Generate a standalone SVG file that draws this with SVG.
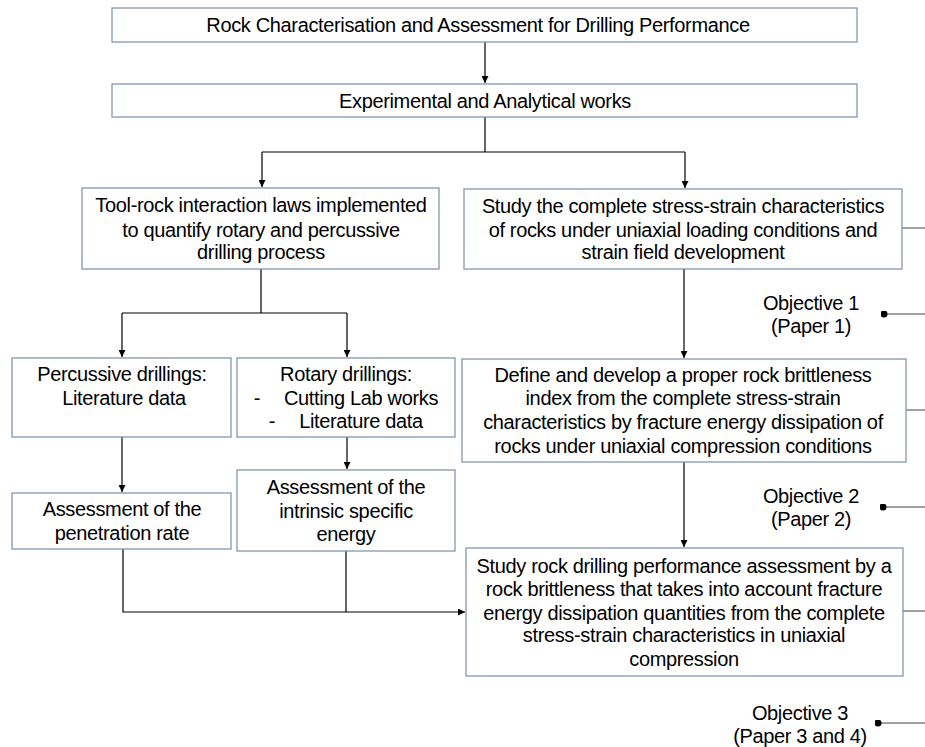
<svg xmlns="http://www.w3.org/2000/svg" width="925" height="747" viewBox="0 0 925 747">
<defs>
<marker id="ah" viewBox="0 0 10 10" refX="10" refY="5" markerWidth="7" markerHeight="7" orient="auto" markerUnits="userSpaceOnUse"><path d="M0,0 L10,5 L0,10 z" fill="#000"/></marker>
<marker id="dot" viewBox="0 0 10 10" refX="5" refY="5" markerWidth="7" markerHeight="7" markerUnits="userSpaceOnUse"><circle cx="5" cy="5" r="5" fill="#000"/></marker>
</defs>
<style>
.box{fill:#fff;stroke:#8496b0;stroke-width:1.3}
text{font-family:"Liberation Sans",Arial,sans-serif;font-size:20px;fill:#000;text-anchor:middle;letter-spacing:-0.35px}
.c{fill:none;stroke:#000;stroke-width:1.2}
.g{fill:none;stroke:#444;stroke-width:1.2}
</style>
<rect width="925" height="747" fill="#fff"/>
<g id="connectors">
<path class="c" d="M485,42 V83" marker-end="url(#ah)"/>
<path class="c" d="M485,117 V152 M262,152 H685"/>
<path class="c" d="M262,152 V187" marker-end="url(#ah)"/>
<path class="c" d="M685,152 V188" marker-end="url(#ah)"/>
<path class="c" d="M261,269 V313 M122,313 H347"/>
<path class="c" d="M122,313 V357" marker-end="url(#ah)"/>
<path class="c" d="M347,313 V357" marker-end="url(#ah)"/>
<path class="c" d="M122,437 V492" marker-end="url(#ah)"/>
<path class="c" d="M347,437 V469" marker-end="url(#ah)"/>
<path class="c" d="M684,269 V358" marker-end="url(#ah)"/>
<path class="c" d="M684,462 V547" marker-end="url(#ah)"/>
<path class="c" d="M123,549 V612 H465" marker-end="url(#ah)"/>
<path class="c" d="M346,551 V612"/>
<path class="g" d="M902,228 H925 M906,410 H925 M903,611 H925"/>
<path class="g" d="M884,314 H925" marker-start="url(#dot)"/>
<path class="g" d="M883,507 H925" marker-start="url(#dot)"/>
<path class="g" d="M878,723 H925" marker-start="url(#dot)"/>
</g>
<g id="n1"><rect class="box" x="112" y="8" width="745" height="34"/><text x="478" y="32">Rock Characterisation and Assessment for Drilling Performance</text></g>
<g id="n2"><rect class="box" x="112" y="84" width="745" height="33"/><text x="485" y="108">Experimental and Analytical works</text></g>
<g id="n3"><rect class="box" x="82" y="188" width="357" height="81"/><text x="261" y="212">Tool-rock interaction laws implemented</text><text x="261" y="237">to quantify rotary and percussive</text><text x="261" y="259">drilling process</text></g>
<g id="n4"><rect class="box" x="464" y="189" width="438" height="80"/><text x="683" y="213">Study the complete stress-strain characteristics</text><text x="683" y="237">of rocks under uniaxial  loading conditions and</text><text x="683" y="259">strain field development</text></g>
<g id="n5"><rect class="box" x="12" y="358" width="219" height="79"/><text x="122" y="381">Percussive drillings:</text><text x="124" y="405">Literature data</text></g>
<g id="n6"><rect class="box" x="237" y="358" width="218" height="79"/><text x="346" y="381">Rotary drillings:</text><text x="257" y="405">-</text><text x="361" y="405">Cutting Lab works</text><text x="272" y="428">-</text><text x="361" y="428">Literature data</text></g>
<g id="n7"><rect class="box" x="462" y="359" width="444" height="103"/><text x="683" y="382">Define and develop a proper rock brittleness</text><text x="683" y="405">index from the complete stress-strain</text><text x="683" y="429">characteristics by fracture energy dissipation of</text><text x="683" y="453">rocks under uniaxial  compression conditions</text></g>
<g id="n8"><rect class="box" x="12" y="493" width="219" height="56"/><text x="122" y="516">Assessment of the</text><text x="122" y="540">penetration rate</text></g>
<g id="n9"><rect class="box" x="237" y="470" width="218" height="81"/><text x="346" y="494">Assessment of the</text><text x="346" y="518">intrinsic specific</text><text x="346" y="541">energy</text></g>
<g id="n10"><rect class="box" x="466" y="548" width="437" height="128"/><text x="684" y="573">Study rock drilling performance assessment by a</text><text x="684" y="596">rock brittleness that takes into account fracture</text><text x="684" y="620">energy dissipation quantities from the complete</text><text x="684" y="642">stress-strain characteristics in uniaxial</text><text x="684" y="666">compression</text></g>
<g id="obj1"><text x="811" y="310">Objective 1</text><text x="811" y="333">(Paper 1)</text></g>
<g id="obj2"><text x="811" y="503">Objective 2</text><text x="811" y="526">(Paper  2)</text></g>
<g id="obj3"><text x="800" y="720">Objective 3</text><text x="800" y="743">(Paper 3 and 4)</text></g>
</svg>
